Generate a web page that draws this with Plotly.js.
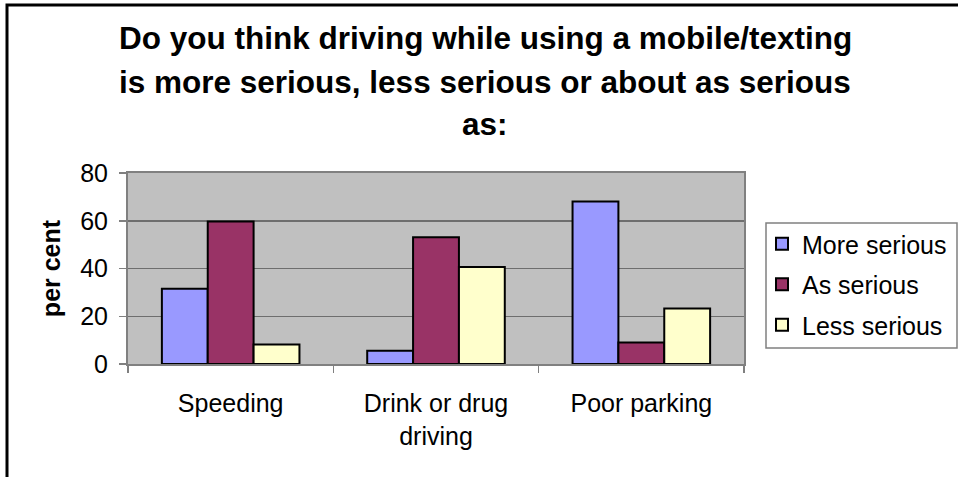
<!DOCTYPE html>
<html>
<head>
<meta charset="utf-8">
<script src="https://cdn.plot.ly/plotly-3.0.1.min.js"></script>
<style>
  html, body { margin: 0; padding: 0; background: #ffffff; overflow: hidden; }
  #wrap { width: 958px; height: 477px; overflow: hidden; position: relative; }
  #chart { width: 1000px; height: 477px; }
</style>
</head>
<body>
<div id="wrap"><div id="chart"></div></div>
<script>
// ---- data ----
const categories = ['Speeding', 'Drink or drug<br>driving', 'Poor parking'];
const seriesNames = ['More serious', 'As serious', 'Less serious'];
const moreSerious = [31.5, 5.6, 68.1];
const asSerious = [59.7, 53.1, 9.0];
const lessSerious = [8.2, 40.6, 23.2];
const yTickVals = [0, 20, 40, 60, 80];
const titleLines = [
  'Do you think driving while using a mobile/texting',
  'is more serious, less serious or about as serious',
  'as:'
];
const yTitle = 'per cent';

const FONT = 'Liberation Sans, Arial, sans-serif';
const colors = ['#9999FF', '#993366', '#FFFFCC'];
const values = [moreSerious, asSerious, lessSerious];

const traces = values.map((v, i) => ({
  type: 'bar',
  name: seriesNames[i],
  x: categories,
  y: v,
  legendgroup: 'g' + i,
  marker: { color: colors[i], line: { color: '#000000', width: 2 } },
  hoverinfo: 'x+y+name'
}));

const PL = 128, PR = 744, PT = 173, PB = 364;
const PW = PR - PL, PH = PB - PT;
const px = (x) => (x - PL) / PW;
const py = (y) => (PB - y) / PH;

const titleY = [38, 82, 124];
const annotations = titleLines.map((t, i) => ({
  text: '<b>' + t + '</b>',
  xref: 'paper', yref: 'paper',
  x: px(485),
  y: py(titleY[i]),
  xanchor: 'center', yanchor: 'middle',
  showarrow: false,
  font: { family: FONT, size: 31.5, color: '#000000' }
}));

const layout = {
  width: 1000, height: 477,
  margin: { l: PL, r: 1000 - PR, t: PT, b: 477 - PB, pad: 0 },
  paper_bgcolor: '#ffffff',
  plot_bgcolor: '#C0C0C0',
  barmode: 'group',
  bargap: 0.33,
  bargroupgap: 0,
  showlegend: true,
  legend: {
    x: px(762), y: py(221),
    xanchor: 'left', yanchor: 'top',
    bgcolor: 'rgba(0,0,0,0)', borderwidth: 0,
    traceorder: 'grouped', tracegroupgap: 5,
    font: { family: FONT, size: 25, color: '#000000' },
    itemclick: false, itemdoubleclick: false
  },
  xaxis: {
    type: 'category',
    tickson: 'boundaries',
    ticks: 'outside', ticklen: 7, tickcolor: '#808080', tickwidth: 1.5,
    showline: true, linecolor: '#808080', linewidth: 2, mirror: true,
    showgrid: false, zeroline: false,
    tickfont: { family: FONT, size: 25, color: '#000000' },
    ticklabelstandoff: 16,
    fixedrange: true
  },
  yaxis: {
    range: [0, 80],
    tickvals: yTickVals,
    ticks: 'outside', ticklen: 7, tickcolor: '#808080', tickwidth: 1.5,
    showline: true, linecolor: '#808080', linewidth: 2, mirror: true,
    showgrid: true, gridcolor: '#6e6e6e', gridwidth: 1.5,
    zeroline: false,
    tickfont: { family: FONT, size: 25, color: '#000000' },
    ticklabelstandoff: 6,
    title: { text: '<b>' + yTitle + '</b>', font: { family: FONT, size: 25, color: '#000000' }, standoff: 12 },
    fixedrange: true
  },
  annotations: annotations,
  shapes: [
    // legend box
    { type: 'rect', xref: 'paper', yref: 'paper', layer: 'below',
      x0: px(766), x1: px(957),
      y0: py(348), y1: py(223),
      line: { color: '#808080', width: 1.5 }, fillcolor: '#ffffff' },
    // outer chart frame
    { type: 'rect', xref: 'paper', yref: 'paper', layer: 'above',
      x0: px(7), x1: px(975),
      y0: py(490), y1: py(5),
      line: { color: '#000000', width: 3 }, fillcolor: 'rgba(0,0,0,0)' }
  ]
};

Plotly.newPlot('chart', traces, layout, { displayModeBar: false, staticPlot: true });
</script>
</body>
</html>
